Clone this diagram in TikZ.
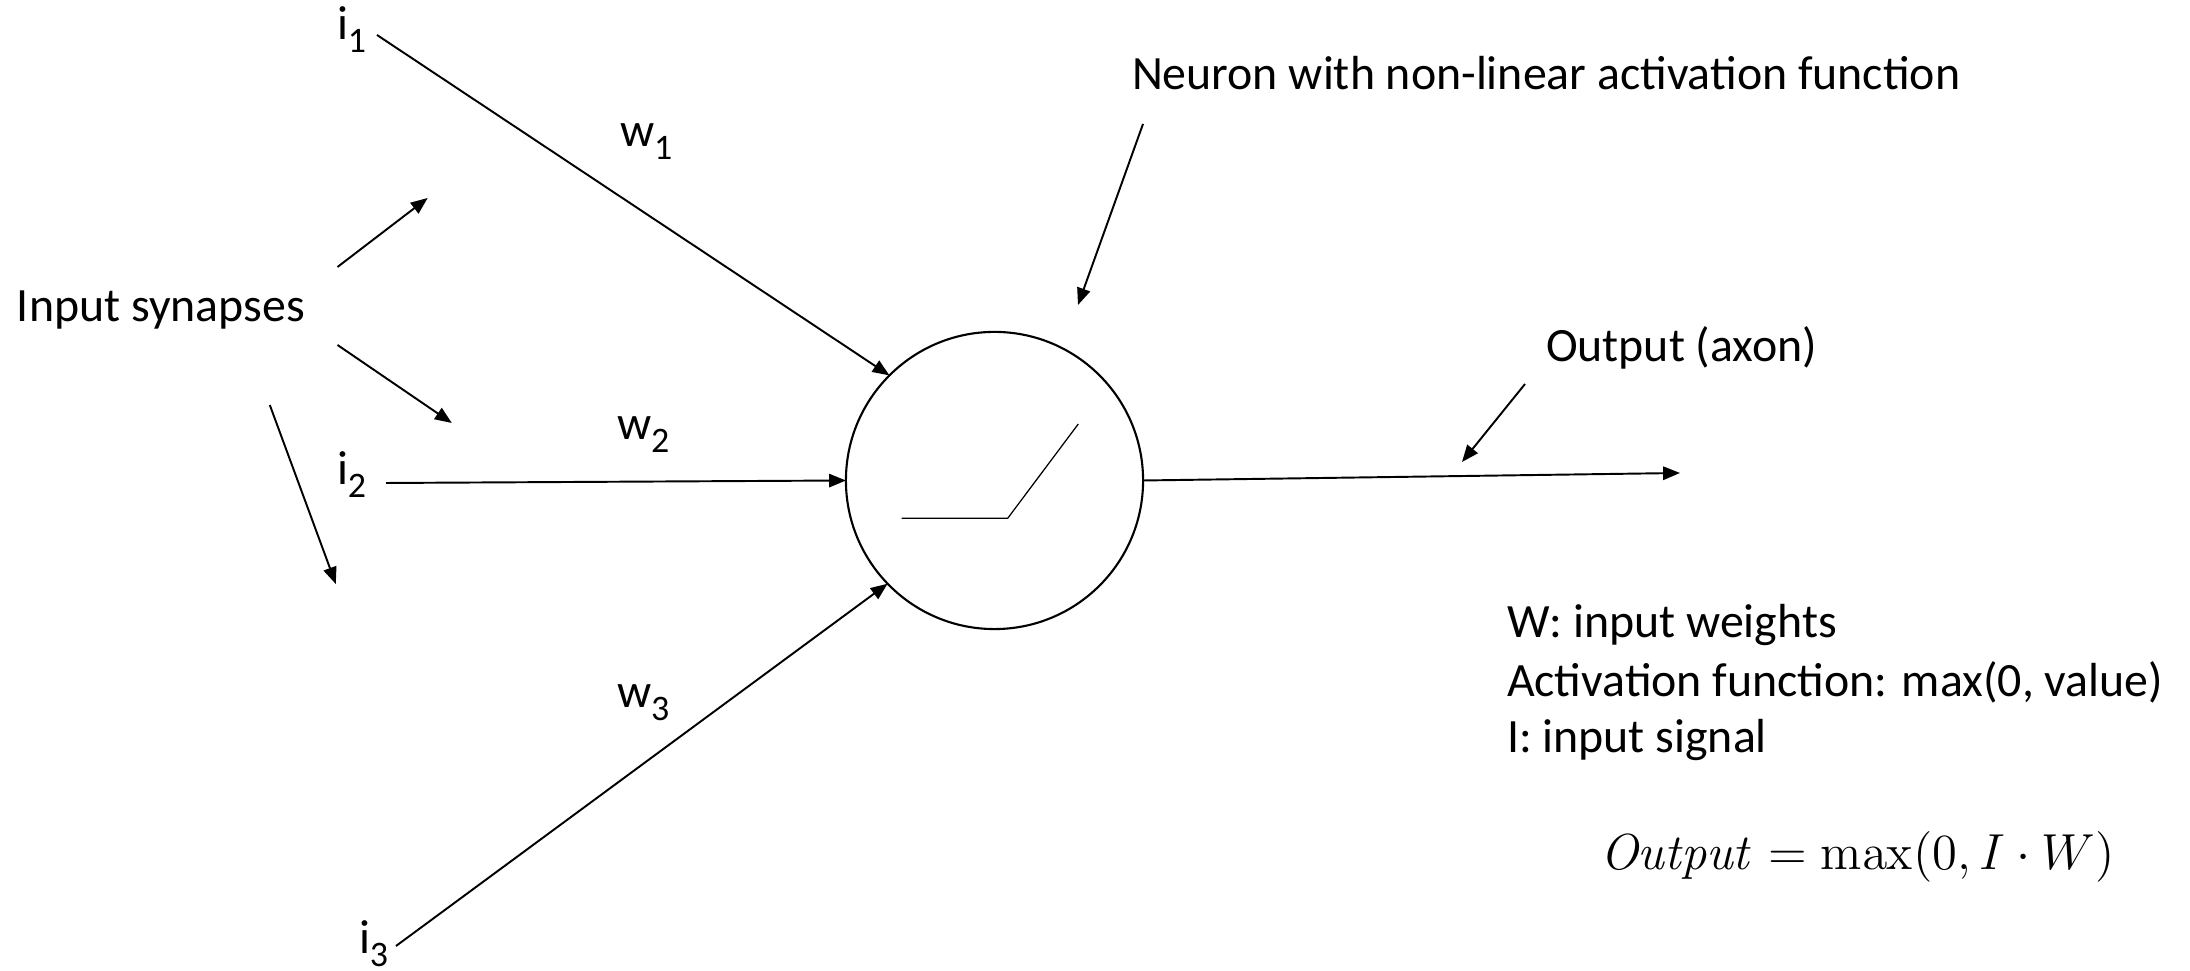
\documentclass[tikz,border=0pt]{standalone}
\usepackage[no-math]{fontspec}
\setmainfont{Carlito}
\usetikzlibrary{arrows.meta}
\newcommand\lowsub[1]{\raisebox{-0.55ex}{\fontsize{10.2}{11}\selectfont #1}}
\begin{document}
\begin{tikzpicture}[x=0.01cm,y=-0.01cm,
  txt/.style={inner sep=0pt,outer sep=0pt,anchor=base west,font=\fontsize{13.6}{16}\selectfont},
  conn/.style={line width=0.55pt,-{Triangle[length=4.8pt,width=3.8pt]}},
  neuronshape/.style={circle,draw,line width=0.6pt,minimum size=2.97cm,inner sep=0pt,outer sep=0pt}]
\useasboundingbox (0,0) rectangle (2190,971);

% the neuron with its ramp-shaped activation
\node[neuronshape] (n) at (994.5,480.5) {};
\coordinate (r0) at (901.7,518.3);
\coordinate (r1) at (1007.7,518.3);
\coordinate (r2) at (1078.3,424);
\draw[line width=0.35pt] (r0) -- (r1) -- (r2);

% inputs and weights
\node[txt] (i1) at (337,40) {i\lowsub{1}};
\node[txt] (i2) at (337,485) {i\lowsub{2}};
\node[txt] (i3) at (359,954) {i\lowsub{3}};
\node[txt] (w1) at (620,147) {w\lowsub{1}};
\node[txt] (w2) at (617,440) {w\lowsub{2}};
\node[txt] (w3) at (617,708) {w\lowsub{3}};
\coordinate (i1s) at (377,35);
\coordinate (i2s) at (386,483);
\coordinate (i3s) at (396,946);
\draw[conn] (i1s) -- (n.135.5);
\draw[conn] (i2s) -- (n.180);
\draw[conn] (i3s) -- (n.224.6);

% input synapses pointers
\node[txt] (syn) at (17,322) {Input synapses};
\coordinate (s1a) at (337.5,267);
\coordinate (s1b) at (427.7,198);
\coordinate (s2a) at (337.5,345);
\coordinate (s2b) at (451.8,423);
\coordinate (s3a) at (269.8,405);
\coordinate (s3b) at (335.8,584);
\draw[conn] (s1a) -- (s1b);
\draw[conn] (s2a) -- (s2b);
\draw[conn] (s3a) -- (s3b);

% neuron label
\node[txt] (lab) at (1132,90) {Neuron with non-linear activation function};
\coordinate (la) at (1143,124);
\coordinate (lb) at (1078,305);
\draw[conn] (la) -- (lb);

% output axon
\coordinate (ax) at (1680,473);
\draw[conn] (n.east) -- (ax);
\node[txt] (out) at (1546,362) {Output (axon)};
\coordinate (oa) at (1525,384);
\coordinate (ob) at (1462,462);
\draw[conn] (oa) -- (ob);

% legend
\node[txt] (lg1) at (1507,638) {W: input weights};
\node[txt] (lg2) at (1507,697) {Activation function: max(0, value)};
\node[txt] (lg3) at (1507,753) {I: input signal};
\node[txt,font=\fontsize{14.1}{16}\selectfont] (eq) at (1600,870) {$\mathit{Output}=\max(0,I\cdot W)$};
\end{tikzpicture}
\end{document}
